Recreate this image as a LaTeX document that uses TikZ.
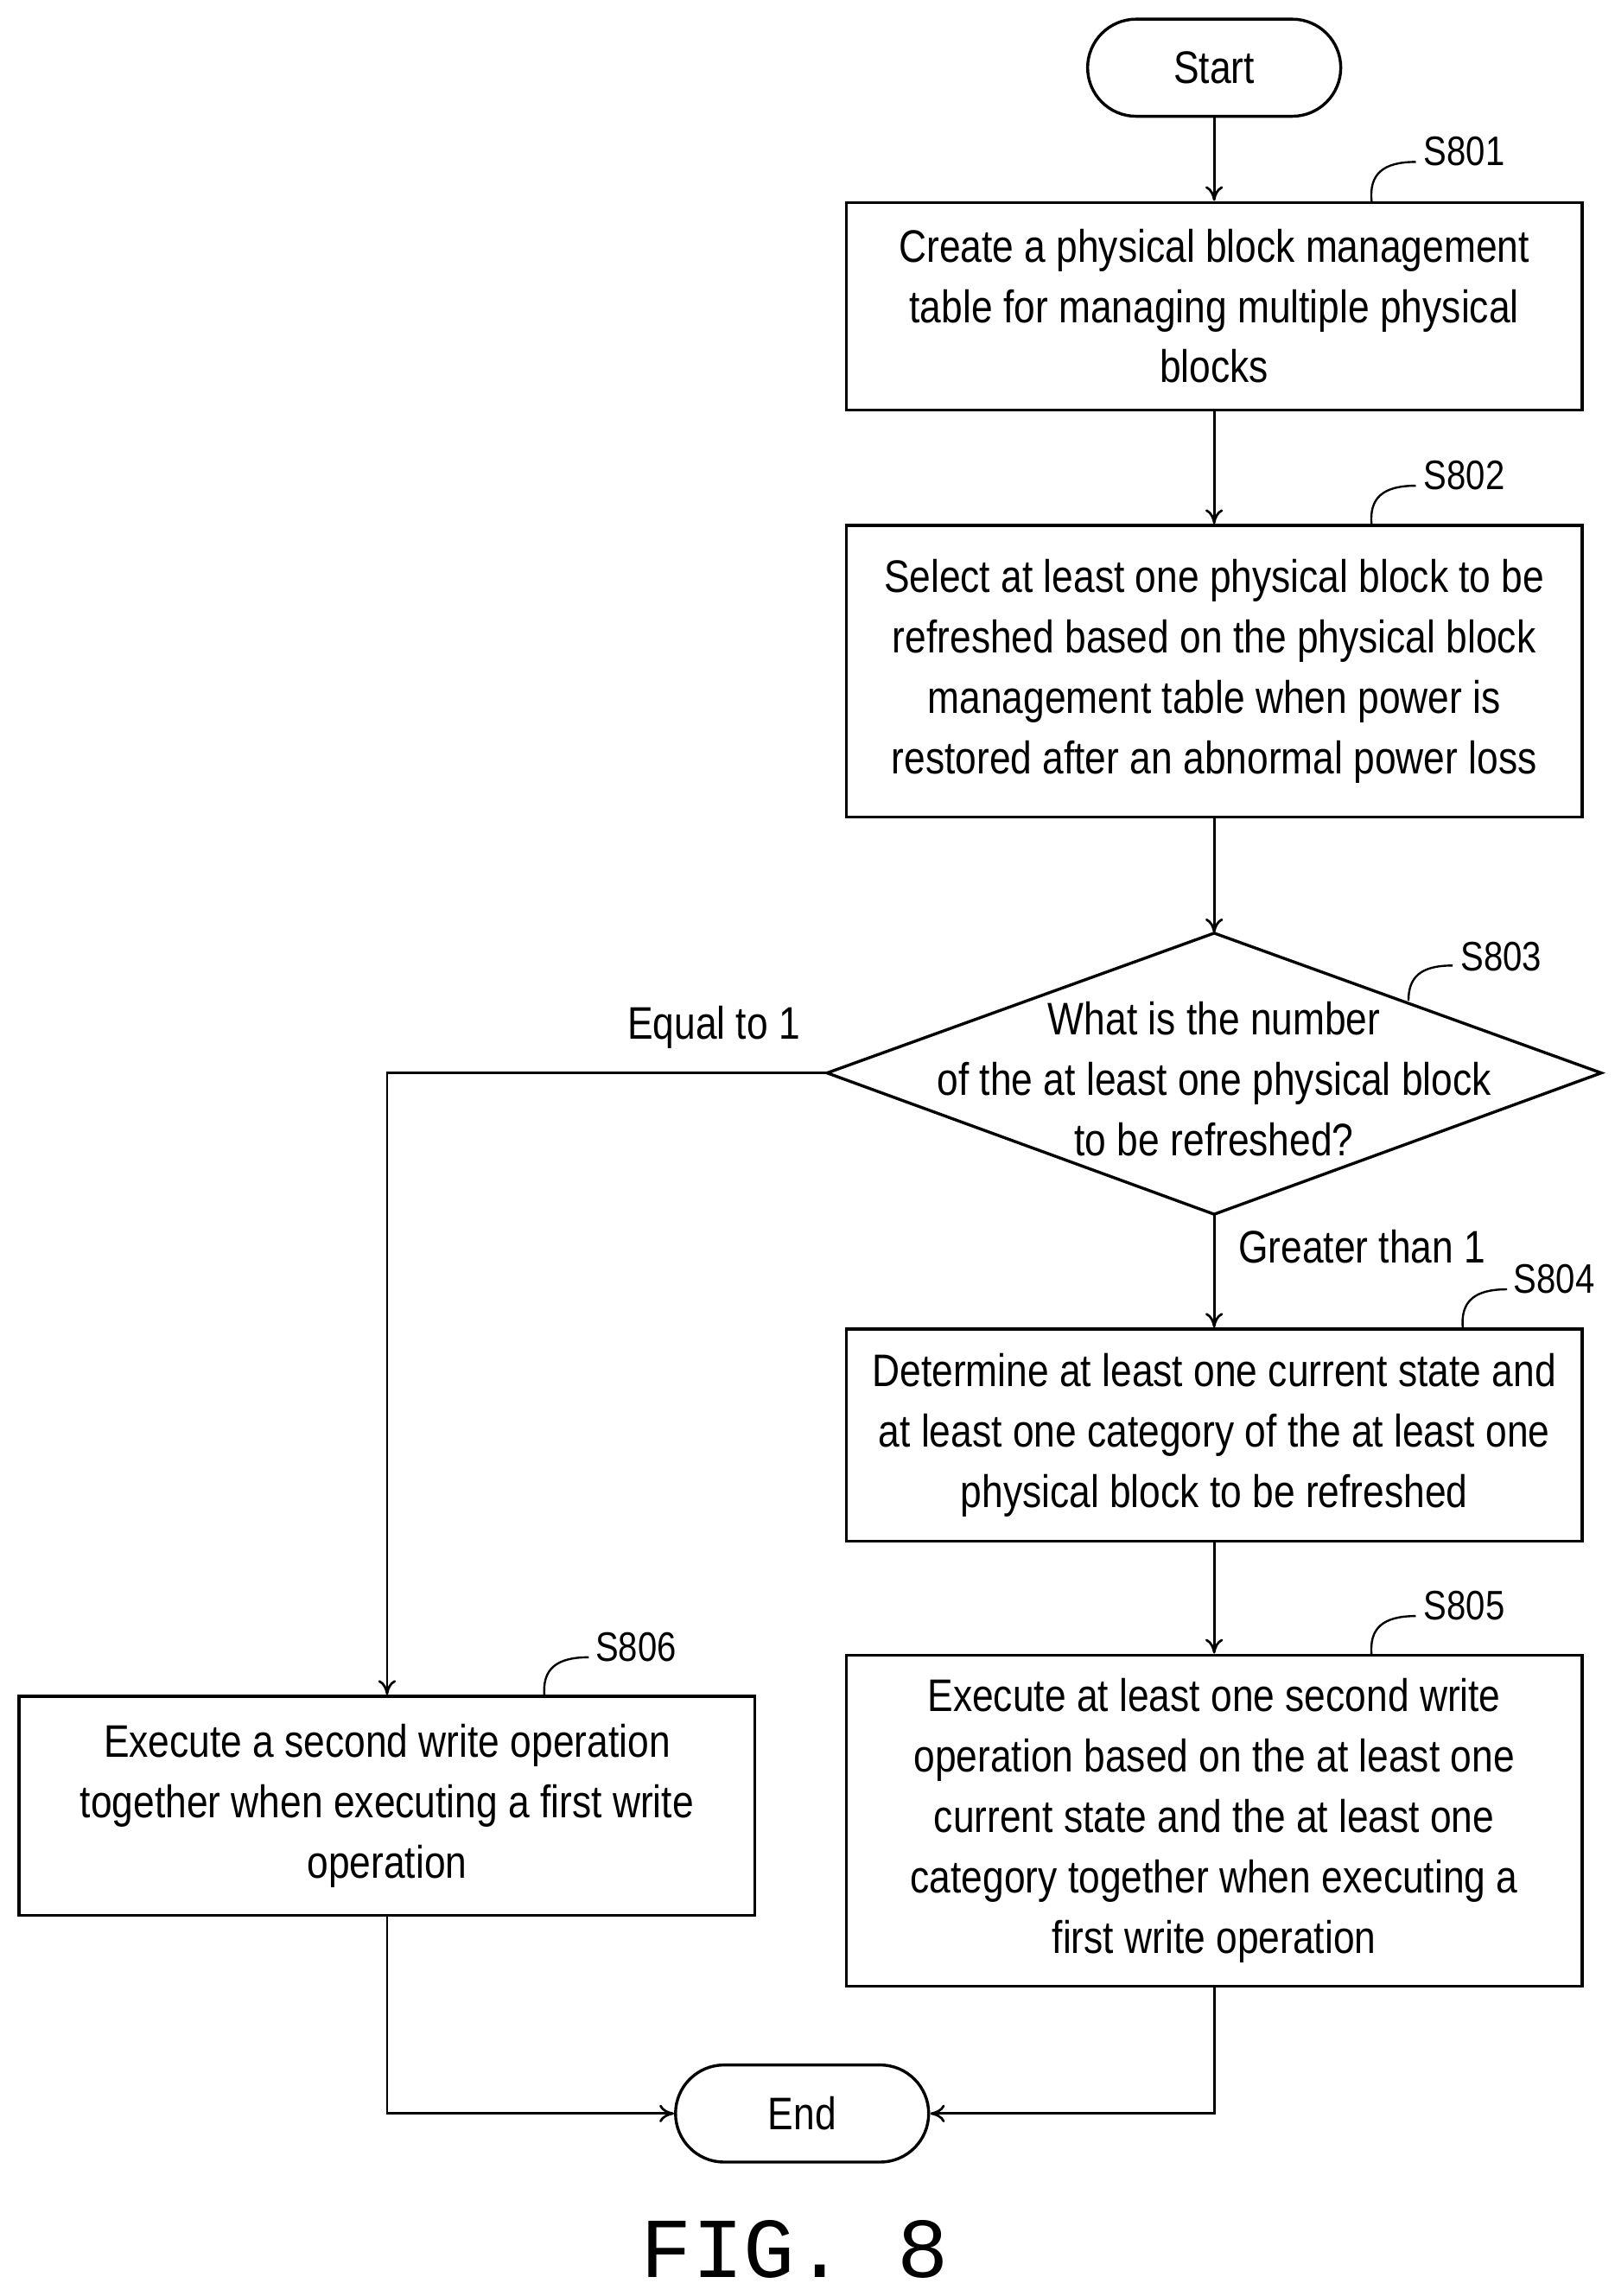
\documentclass[tikz,border=0pt]{standalone}
\usepackage{fontspec}
\setmainfont[FakeStretch=0.84]{Liberation Sans}
\newfontfamily\figfont{Liberation Mono}
\usetikzlibrary{arrows.meta}
\tikzset{
  box/.style={draw, line width=1pt, minimum width=250pt, align=center, inner sep=0pt,
    font=\fontsize{15.5}{20.5}\selectfont},
  term/.style={draw, line width=1pt, rounded corners=16.5pt, minimum width=86pt, minimum height=33pt,
    font=\fontsize{15.5}{20.5}\selectfont},
  dec/.style={line width=1pt},
  flow/.style={line width=0.8pt, -{To[length=5pt,width=6pt]}},
  steplbl/.style={font=\fontsize{14}{16}\selectfont},
  tick/.style={line width=0.7pt}
}
\begin{document}
\begin{tikzpicture}[x=0.5pt,y=-0.5pt]
  \useasboundingbox (0,0) rectangle (1097,1560);
  % Nodes
  \node[term] (start) at (825,46) {Start};
  \node[box, minimum height=70.5pt] (s801) at (825,208) {Create a physical block management\\table for managing multiple physical\\blocks};
  \node[box, minimum height=99pt] (s802) at (825,456) {Select at least one physical block to be\\refreshed based on the physical block\\management table when power is\\restored after an abnormal power loss};
  \coordinate (s803n) at (825,634);
  \coordinate (s803w) at (562,729);
  \coordinate (s803s) at (825,825);
  \coordinate (s803e) at (1088,729);
  \draw[dec] (s803n) -- (s803e) -- (s803s) -- (s803w) -- cycle;
  \node[align=center, font=\fontsize{15.5}{20.5}\selectfont] (s803) at (825,733) {What is the number\\of the at least one physical block\\to be refreshed?};
  \node[box, minimum height=72pt] (s804) at (825,975) {Determine at least one current state and\\at least one category of the at least one\\physical block to be refreshed};
  \node[box, minimum height=112.5pt] (s805) at (825,1237) {Execute at least one second write\\operation based on the at least one\\current state and the at least one\\category together when executing a\\first write operation};
  \node[box, minimum height=74.5pt] (s806) at (263,1227) {Execute a second write operation\\together when executing a first write\\operation};
  \node[term] (end) at (545,1436) {End};
  \node[font=\figfont\fontsize{29}{32}\selectfont] (fig) at (540,1528) {FIG. 8};

  % Step labels
  \node[steplbl] (l801) at (995,103) {S801};
  \node[steplbl] (l802) at (995,323) {S802};
  \node[steplbl] (l803) at (1020,650) {S803};
  \node[steplbl] (l804) at (1056,869) {S804};
  \node[steplbl] (l805) at (995,1091) {S805};
  \node[steplbl] (l806) at (432,1119) {S806};
  \draw[tick] (932,137) .. controls (930,118) and (940,110) .. (962,110);
  \draw[tick] (932,357) .. controls (930,338) and (940,330) .. (962,330);
  \draw[tick] (957,680) .. controls (957,664) and (965,656) .. (987,656);
  \draw[tick] (994,903) .. controls (992,884) and (1002,876) .. (1024,876);
  \draw[tick] (932,1125) .. controls (930,1106) and (940,1098) .. (962,1098);
  \draw[tick] (370,1153) .. controls (368,1134) and (378,1126) .. (400,1126);

  % Connectors
  \draw[flow] (start) -- (s801);
  \draw[flow] (s801) -- (s802);
  \draw[flow] (s802) -- (s803n);
  \draw[flow] (s803s) -- (s804) node[font=\fontsize{15.5}{18}\selectfont, anchor=west] at (834,847) {Greater than 1};
  \draw[flow] (s804) -- (s805);
  \draw[flow] (s803w) -| (s806.north);
  \node[font=\fontsize{15.5}{18}\selectfont] (eq) at (485,698) {Equal to 1};
  \draw[flow] (s806.south) |- (end.west);
  \draw[flow] (s805.south) |- (end.east);
\end{tikzpicture}
\end{document}
